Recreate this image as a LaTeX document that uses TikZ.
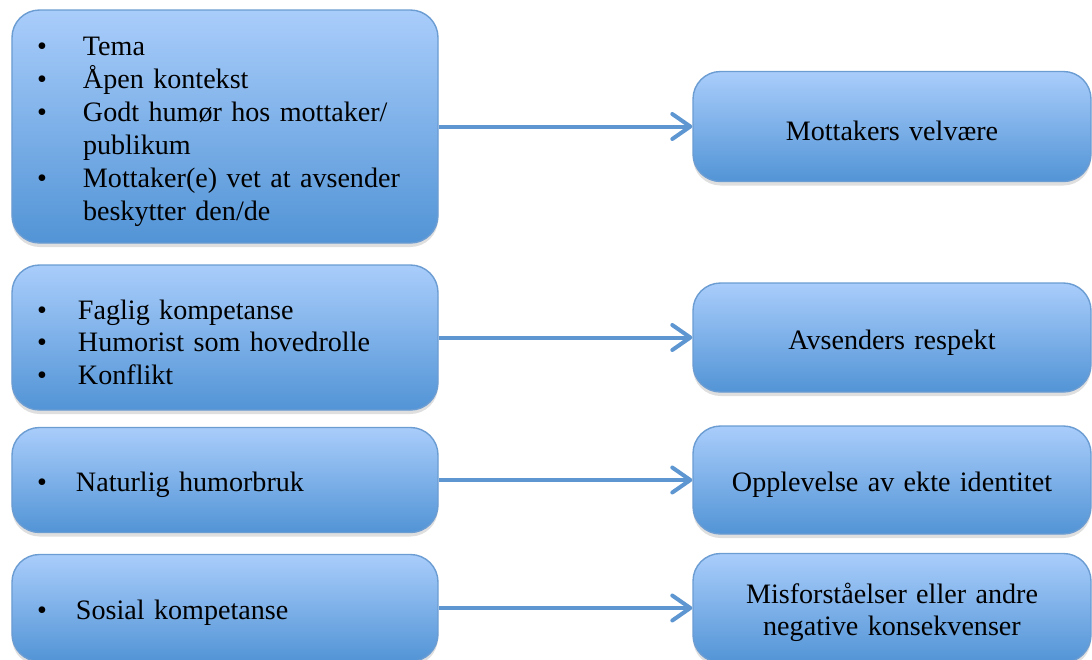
\documentclass[tikz,border=0pt]{standalone}
\usepackage{fontspec}
\setmainfont{Liberation Serif}
\usepackage{tikz}
\usetikzlibrary{arrows.meta,shadows}
\definecolor{BoxTop}{HTML}{A9CDFB}
\definecolor{BoxBottom}{HTML}{5294D6}
\definecolor{BoxLine}{HTML}{6B9CD2}
\definecolor{ArrowBlue}{HTML}{5D96D0}
\newcommand{\bul}[1][0.92cm]{\makebox[#1][l]{\textbullet}}

\begin{document}
\begin{tikzpicture}[>={Straight Barb[length=0.36cm,width=0.5cm,round]},
                    every node/.style={font=\fontsize{16}{18.7}\selectfont, rounded corners=0.55cm,
                                       draw=BoxLine, line width=0.8pt, top color=BoxTop, bottom color=BoxBottom,
                                       drop shadow={shadow xshift=0pt, shadow yshift=-0.08cm, opacity=0.25},
                                       execute at begin node={\rule{0pt}{16.5pt}}},
                    leftbox/.style={minimum width=8.52cm, text width=7.52cm, inner xsep=0.5cm, align=left},
                    rightbox/.style={minimum width=7.96cm, text width=7.56cm, inner xsep=0.2cm, align=center},
                    arr/.style={->, draw=ArrowBlue, line width=0.08cm}]
\useasboundingbox (0,0) rectangle (21.84,-13.18);
\node[leftbox, minimum height=4.66cm] (tema) at (4.50,-2.53)
  {\bul Tema\\ \bul Åpen kontekst\\ \bul Godt humør hos mottaker/\\ \hspace*{0.92cm}publikum\\
   \bul Mottaker(e) vet at avsender\\ \hspace*{0.92cm}beskytter den/de};
\node[rightbox, minimum height=2.20cm] (velvaere) at (17.84,-2.53) {Mottakers velvære};
\node[leftbox, minimum height=2.90cm] (faglig) at (4.50,-6.75)
  {\bul[0.82cm]Faglig kompetanse\\ \bul[0.82cm]Humorist som hovedrolle\\ \bul[0.82cm]Konflikt};
\node[rightbox, minimum height=2.18cm] (respekt) at (17.84,-6.75) {Avsenders respekt};
\node[leftbox, minimum height=2.10cm] (naturlig) at (4.50,-9.60) {\bul[0.78cm]Naturlig humorbruk};
\node[rightbox, minimum height=2.16cm] (identitet) at (17.84,-9.60) {Opplevelse av ekte identitet};
\node[leftbox, minimum height=2.14cm] (sosial) at (4.50,-12.16) {\bul[0.78cm]Sosial kompetanse};
\node[rightbox, minimum height=2.18cm] (misforst) at (17.84,-12.16) {Misforståelser eller andre\\ negative konsekvenser};
\draw[arr] (tema) -- (velvaere);
\draw[arr] (faglig) -- (respekt);
\draw[arr] (naturlig) -- (identitet);
\draw[arr] (sosial) -- (misforst);
\end{tikzpicture}
\end{document}
